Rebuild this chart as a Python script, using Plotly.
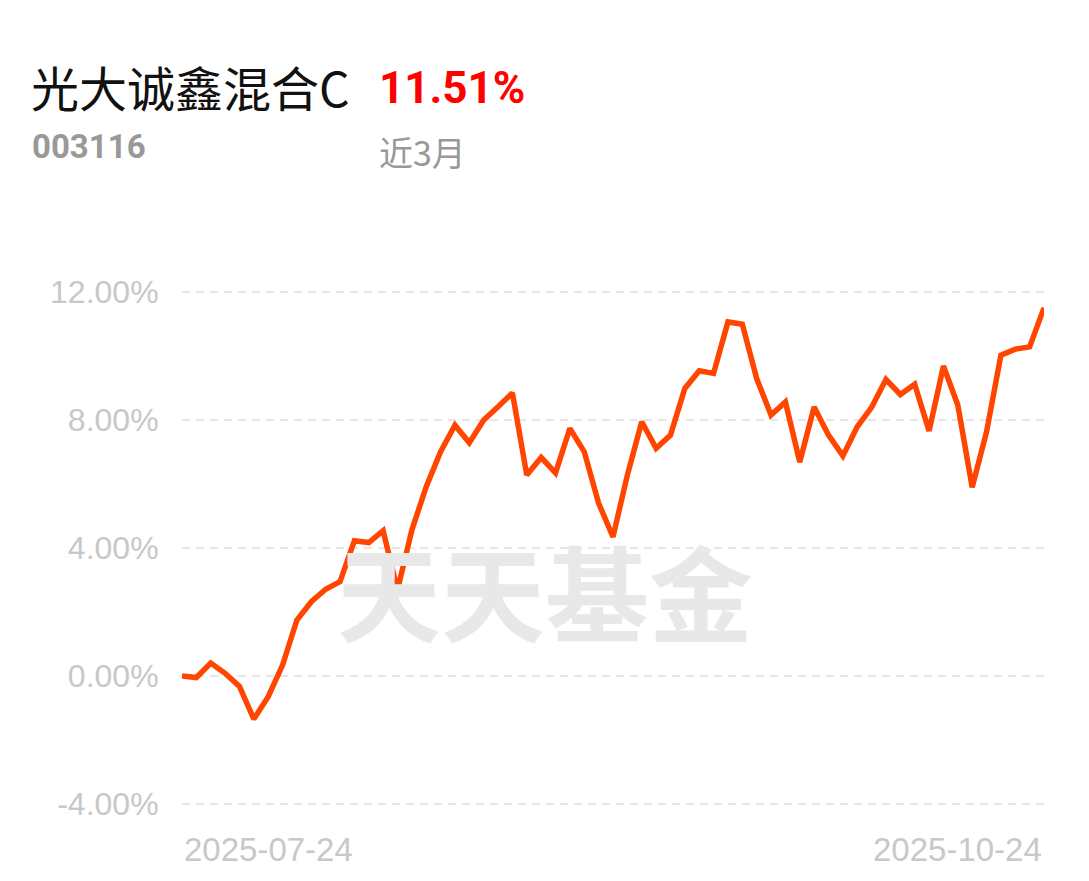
import plotly.graph_objects as go

dates = ["2025-07-24", "2025-07-25", "2025-07-28", "2025-07-29", "2025-07-30", "2025-07-31",
         "2025-08-01", "2025-08-04", "2025-08-05", "2025-08-06", "2025-08-07", "2025-08-08",
         "2025-08-11", "2025-08-12", "2025-08-13", "2025-08-14", "2025-08-15", "2025-08-18",
         "2025-08-19", "2025-08-20", "2025-08-21", "2025-08-22", "2025-08-25", "2025-08-26",
         "2025-08-27", "2025-08-28", "2025-08-29", "2025-09-01", "2025-09-02", "2025-09-03",
         "2025-09-04", "2025-09-05", "2025-09-08", "2025-09-09", "2025-09-10", "2025-09-11",
         "2025-09-12", "2025-09-15", "2025-09-16", "2025-09-17", "2025-09-18", "2025-09-19",
         "2025-09-22", "2025-09-23", "2025-09-24", "2025-09-25", "2025-09-26", "2025-09-29",
         "2025-09-30", "2025-10-09", "2025-10-10", "2025-10-13", "2025-10-14", "2025-10-15",
         "2025-10-16", "2025-10-17", "2025-10-20", "2025-10-21", "2025-10-22", "2025-10-23",
         "2025-10-24"]

returns = [0.00, -0.05, 0.40, 0.08, -0.33, -1.35, -0.65, 0.34, 1.75, 2.32,
           2.71, 2.95, 4.23, 4.17, 4.54, 2.69, 4.56, 5.92, 7.01, 7.84,
           7.29, 8.00, 8.42, 8.85, 6.28, 6.83, 6.35, 7.74, 7.01, 5.40,
           4.35, 6.28, 7.95, 7.12, 7.53, 8.99, 9.54, 9.46, 11.07, 11.00,
           9.30, 8.16, 8.57, 6.69, 8.41, 7.53, 6.88, 7.79, 8.40, 9.27,
           8.80, 9.12, 7.66, 9.69, 8.47, 5.90, 7.63, 10.03, 10.22, 10.29,
           11.51]

y_ticks = [-4, 0, 4, 8, 12]
y_tick_labels = ["-4.00%", "0.00%", "4.00%", "8.00%", "12.00%"]

fund_name = "光大诚鑫混合C"
fund_code = "003116"
period_return = "11.51%"
period_label = "近3月"
watermark = "天天基金"

CJK = "Noto Sans CJK SC"
SANS = "Liberation Sans, Arial, sans-serif"

fig = go.Figure()
fig.add_trace(go.Scatter(
    x=dates, y=returns, mode="lines",
    line=dict(color="#ff4500", width=5.5),
    hoverinfo="skip", showlegend=False,
))

fig.update_layout(
    width=1089, height=881,
    margin=dict(l=174, r=53, t=281, b=82, pad=0),
    paper_bgcolor="white", plot_bgcolor="white",
    xaxis=dict(
        type="category", range=[0, len(dates) - 1],
        showticklabels=False, showgrid=False, zeroline=False, showline=False,
    ),
    yaxis=dict(
        range=[-4.1, 12.1], tickvals=y_ticks, ticktext=y_tick_labels,
        showgrid=True, gridcolor="#e6e6e6", gridwidth=2, griddash="8px,6px",
        zeroline=False, showline=False,
        ticks="outside", ticklen=16, tickcolor="rgba(0,0,0,0)",
        tickfont=dict(family=SANS, size=32, color="#c8c8c8"),
    ),
)

def px_x(px):
    return (px - 182) / 862

def px_y(py):
    return (807.2 - py) / 518.4

annotations = [
    dict(text=watermark, x=px_x(545), y=px_y(590), xanchor="center", yanchor="middle",
         font=dict(family=CJK, size=104, color="#e8e8e8", weight="bold")),
    dict(text=fund_name, x=px_x(29), y=px_y(86), xanchor="left", yanchor="middle",
         font=dict(family=CJK, size=48, color="#111111")),
    dict(text=period_return, x=px_x(377), y=px_y(88), xanchor="left", yanchor="middle",
         font=dict(family="Roboto", size=44, color="#ff0000", weight="bold")),
    dict(text=fund_code, x=px_x(30), y=px_y(146), xanchor="left", yanchor="middle",
         font=dict(family="Roboto", size=33, color="#999999", weight="bold")),
    dict(text=period_label, x=px_x(377), y=px_y(151), xanchor="left", yanchor="middle",
         font=dict(family=CJK, size=34, color="#999999")),
    dict(text=dates[0], x=dates[0], xref="x", y=px_y(850), xanchor="left", yanchor="middle",
         font=dict(family=SANS, size=33, color="#c8c8c8")),
    dict(text=dates[-1], x=dates[-1], xref="x", y=px_y(850), xanchor="right", yanchor="middle",
         font=dict(family=SANS, size=33, color="#c8c8c8")),
]
for a in annotations:
    a.setdefault("xref", "paper")
    a["yref"] = "paper"
    a["showarrow"] = False
fig.update_layout(annotations=annotations)

fig.write_html("out.html")
